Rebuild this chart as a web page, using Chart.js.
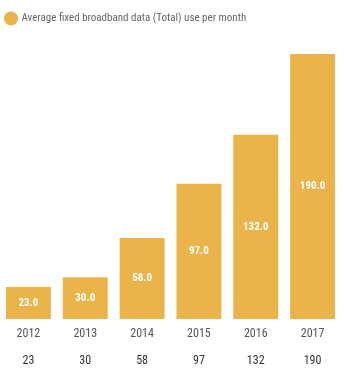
<!DOCTYPE html>
<html>
<head>
<meta charset="utf-8">
<script src="https://cdn.jsdelivr.net/npm/chart.js@4"></script>
<style>
  html, body { margin: 0; padding: 0; background: #fff; }
  #wrap { width: 344px; height: 368px; position: relative; }
</style>
</head>
<body>
<div id="wrap"><canvas id="chartCanvas"></canvas></div>
<script>
const years = ['2012', '2013', '2014', '2015', '2016', '2017'];
const usage = [23, 30, 58, 97, 132, 190];
const tableRow = ['23', '30', '58', '97', '132', '190'];
const seriesName = 'Average fixed broadband data (Total) use per month';

const barColor = '#EBB44B';
const fontFamily = "'Roboto Condensed', 'DejaVu Sans Condensed', Roboto, sans-serif";

// white value labels centred in each bar
const barLabels = {
  id: 'barLabels',
  afterDatasetsDraw(chart) {
    const ctx = chart.ctx;
    const meta = chart.getDatasetMeta(0);
    ctx.save();
    ctx.fillStyle = '#fff';
    ctx.font = 'bold 11px ' + fontFamily;
    ctx.textAlign = 'center';
    ctx.textBaseline = 'middle';
    meta.data.forEach((bar, i) => {
      const mid = (bar.y + bar.base) / 2;
      ctx.fillText(usage[i].toFixed(1), bar.x, mid);
    });
    ctx.restore();
  }
};

// extra room under the legend
const legendGap = {
  id: 'legendGap',
  beforeInit(chart) {
    const origFit = chart.legend.fit;
    chart.legend.fit = function() {
      origFit.bind(chart.legend)();
      this.height += 6;
    };
  }
};

new Chart(document.getElementById('chartCanvas').getContext('2d'), {
  type: 'bar',
  data: {
    labels: years,
    datasets: [{
      label: seriesName,
      data: usage,
      backgroundColor: barColor,
      borderWidth: 0,
      categoryPercentage: 0.79,
      barPercentage: 1
    }]
  },
  options: {
    responsive: true,
    maintainAspectRatio: false,
    animation: false,
    layout: { padding: { left: 0, right: 3, top: 7, bottom: 0 } },
    plugins: {
      legend: {
        align: 'start',
        labels: {
          usePointStyle: true,
          pointStyle: 'circle',
          boxWidth: 10,
          boxHeight: 10,
          color: '#666',
          font: { size: 11, family: fontFamily },
          padding: 6
        }
      },
      tooltip: { enabled: false }
    },
    scales: {
      x: {
        grid: { display: false, drawTicks: false },
        border: { display: false },
        ticks: { color: '#555', font: { size: 12, family: fontFamily }, padding: 8 },
        afterFit(scale) { scale.height = 20; }
      },
      x2: {
        type: 'category',
        position: 'bottom',
        labels: tableRow,
        grid: { display: false, drawTicks: false },
        border: { display: false },
        ticks: { color: '#333', font: { size: 12, family: fontFamily }, padding: 15 },
        afterFit(scale) { scale.height = 29; }
      },
      y: {
        display: false,
        min: 0,
        max: 200
      }
    }
  },
  plugins: [barLabels, legendGap]
});
</script>
</body>
</html>
